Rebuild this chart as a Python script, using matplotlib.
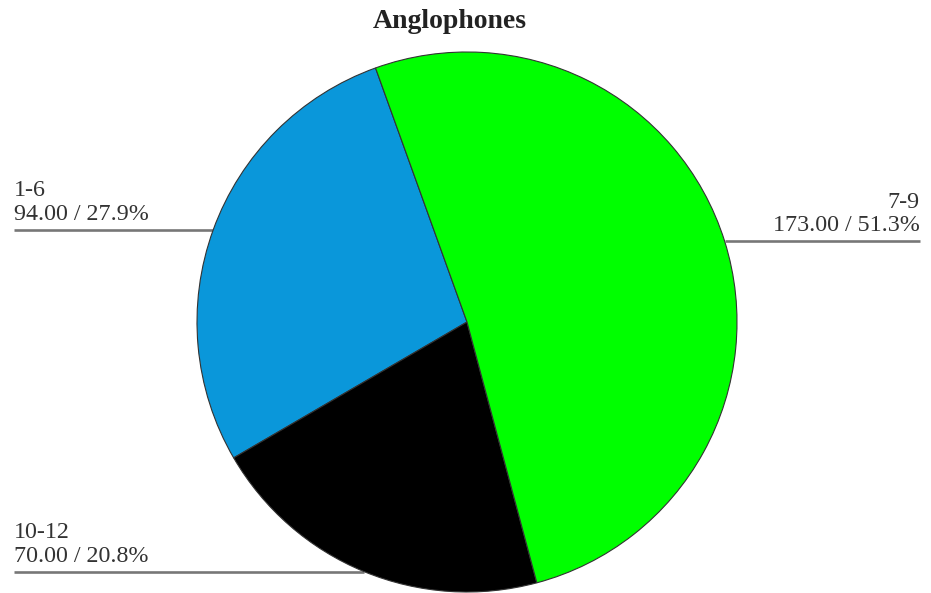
import numpy as np
import matplotlib.pyplot as plt

# data
labels = ['1-6', '10-12', '7-9']
values = [94.00, 70.00, 173.00]
colors = ['#0a97da', '#000000', '#00ff00']

plt.rcParams['font.family'] = ['Liberation Serif', 'DejaVu Serif']

W, H = 931, 593
fig = plt.figure(figsize=(W / 100, H / 100), dpi=100)

# pie centre (467, 322) px, radius 270 px
cx, cy, r = 467, 322, 270
ax = fig.add_axes([(cx - r) / W, (H - cy - r) / H, 2 * r / W, 2 * r / H])
wedges, _ = ax.pie(values, colors=colors, startangle=109.8, counterclock=True,
                   radius=1, wedgeprops=dict(edgecolor='#333333', linewidth=0.8))
ax.set_xlim(-1, 1)
ax.set_ylim(-1, 1)
ax.axis('off')

total = sum(values)
x_edge = (W - 11 - cx) / r  # how far the leader lines run, in data units
for w, lab, val in zip(wedges, labels, values):
    ang = np.deg2rad((w.theta1 + w.theta2) / 2)
    x0, y0 = np.cos(ang), np.sin(ang)
    side = 1 if x0 > 0 else -1
    ax.plot([x0, side * x_edge], [y0, y0], color='#777777', lw=1.9,
            clip_on=False, solid_capstyle='butt', zorder=0)
    ha = 'right' if side > 0 else 'left'
    ax.text(side * x_edge, y0 + 5 / r, f'{lab}\n{val:.2f} / {val / total * 100:.1f}%',
            ha=ha, va='bottom', fontsize=17.3, color='#333333',
            linespacing=1.15, clip_on=False)

fig.text(450 / W, 1 - 21 / H, 'Anglophones', ha='center', va='center',
         fontsize=20, fontweight='bold', color='#222222')

fig.savefig('out.png', dpi=100)
